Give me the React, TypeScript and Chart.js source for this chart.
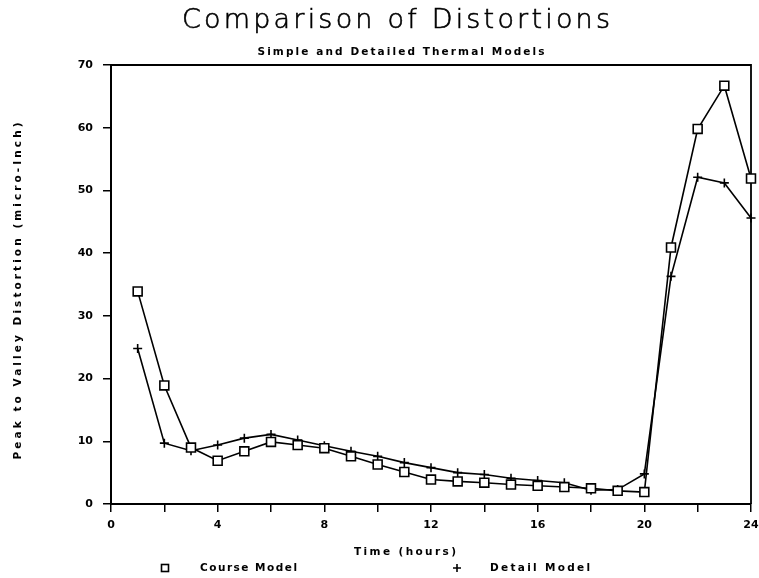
import React, { useEffect, useRef } from 'react';
import { Chart, registerables } from 'chart.js';

Chart.register(...registerables);

// ---- data ----
const hours = [1, 2, 3, 4, 5, 6, 7, 8, 9, 10, 11, 12, 13, 14, 15, 16, 17, 18, 19, 20, 21, 22, 23, 24];
const courseModel = [33.9, 18.9, 9.0, 6.9, 8.4, 9.9, 9.4, 8.9, 7.6, 6.3, 5.1, 3.9, 3.6, 3.4, 3.1, 2.9, 2.7, 2.5, 2.1, 1.9, 40.9, 59.8, 66.7, 51.9];
const detailModel = [24.8, 9.7, 8.5, 9.4, 10.5, 11.1, 10.2, 9.3, 8.4, 7.6, 6.6, 5.8, 5.0, 4.7, 4.1, 3.75, 3.4, 2.2, 2.3, 4.8, 36.3, 52.1, 51.2, 45.6];
const seriesNames = ['Course Model', 'Detail Model'];

const TITLE = 'Comparison of Distortions';
const SUBTITLE = 'Simple and Detailed Thermal Models';
const X_TITLE = 'Time (hours)';
const Y_TITLE = 'Peak to Valley Distortion (micro-Inch)';

const X_MIN = 0;
const X_MAX = 24;
const X_STEP = 2;
const X_LABEL_EVERY = 4;
const Y_MIN = 0;
const Y_MAX = 70;
const Y_STEP = 10;

const W = 759;
const H = 578;
const BOLD = 'bold 10.5px "DejaVu Sans", sans-serif';

function drawFitted(
  ctx: CanvasRenderingContext2D,
  text: string,
  x: number,
  y: number,
  width: number,
  font: string,
  opts: { rotate?: boolean; left?: boolean; stroke?: number } = {}
) {
  ctx.save();
  ctx.font = font;
  (ctx as any).letterSpacing = '0px';
  const w = ctx.measureText(text).width;
  const n = text.length;
  const ls = n > 1 ? (width - w) / (n - 1) : 0;
  (ctx as any).letterSpacing = ls + 'px';
  ctx.textBaseline = 'middle';
  ctx.textAlign = 'left';
  ctx.fillStyle = '#000';
  ctx.strokeStyle = '#000';
  let tx = opts.left ? x : x - width / 2;
  let ty = y;
  if (opts.rotate) {
    ctx.translate(x, y);
    ctx.rotate(-Math.PI / 2);
    tx = -width / 2;
    ty = 0;
  }
  ctx.fillText(text, tx, ty);
  if (opts.stroke) {
    ctx.lineWidth = opts.stroke;
    ctx.strokeText(text, tx, ty);
  }
  ctx.restore();
}

const decorPlugin = {
  id: 'decor',
  beforeDatasetsDraw(chart: any) {
    const { ctx, chartArea } = chart;
    ctx.save();
    ctx.strokeStyle = '#000';
    ctx.lineWidth = 1.8;
    ctx.beginPath();
    ctx.moveTo(chartArea.left, chartArea.top);
    ctx.lineTo(chartArea.right, chartArea.top);
    ctx.lineTo(chartArea.right, chartArea.bottom);
    ctx.stroke();
    ctx.restore();
  },
  afterDraw(chart: any) {
    const ctx: CanvasRenderingContext2D = chart.ctx;
    drawFitted(ctx, TITLE, 396, 21, 428, '200 27px "DejaVu Sans", sans-serif', { stroke: 0.6 });
    drawFitted(ctx, SUBTITLE, 401, 52, 287, BOLD);
    drawFitted(ctx, X_TITLE, 405, 552, 102, BOLD);
    drawFitted(ctx, Y_TITLE, 18, 291, 337, BOLD, { rotate: true });

    // legend
    ctx.save();
    ctx.strokeStyle = '#000';
    ctx.lineWidth = 1.6;
    ctx.strokeRect(161.5, 564.5, 7, 7);
    ctx.beginPath();
    ctx.moveTo(453, 568);
    ctx.lineTo(461, 568);
    ctx.moveTo(457, 564);
    ctx.lineTo(457, 572);
    ctx.stroke();
    ctx.restore();
    drawFitted(ctx, seriesNames[0], 200, 568, 97, BOLD, { left: true });
    drawFitted(ctx, seriesNames[1], 490, 568, 100, BOLD, { left: true });
  },
};

export default function App() {
  const ref = useRef<HTMLCanvasElement | null>(null);

  useEffect(() => {
    if (!ref.current) return;
    const tickFont = { family: '"DejaVu Sans", sans-serif', size: 11, weight: 'bold' as const };
    const chart = new Chart(ref.current, {
      type: 'line',
      data: {
        datasets: [
          {
            label: seriesNames[0],
            data: hours.map((h, i) => ({ x: h, y: courseModel[i] })),
            borderColor: '#000',
            borderWidth: 1.6,
            pointStyle: 'rect',
            pointRadius: 6.3,
            pointBorderWidth: 1.6,
            pointBorderColor: '#000',
            pointBackgroundColor: '#fff',
            tension: 0,
            clip: false,
          },
          {
            label: seriesNames[1],
            data: hours.map((h, i) => ({ x: h, y: detailModel[i] })),
            borderColor: '#000',
            borderWidth: 1.6,
            pointStyle: 'cross',
            pointRadius: 4.5,
            pointBorderWidth: 1.6,
            pointBorderColor: '#000',
            pointBackgroundColor: '#000',
            tension: 0,
            clip: false,
          },
        ],
      },
      options: {
        animation: false,
        responsive: false,
        layout: { padding: { top: 65, right: 8, left: 0, bottom: 0 } },
        plugins: {
          legend: { display: false },
          title: { display: false },
          tooltip: { enabled: false },
        },
        scales: {
          x: {
            type: 'linear',
            min: X_MIN,
            max: X_MAX,
            afterFit: (s: any) => {
              s.height = 74;
              s.paddingLeft = 0;
              s.paddingRight = 0;
            },
            ticks: {
              stepSize: X_STEP,
              autoSkip: false,
              maxRotation: 0,
              padding: 7,
              color: '#000',
              font: tickFont,
              callback: (v: any) => (Number(v) % X_LABEL_EVERY === 0 ? String(v) : ''),
            },
            grid: { drawOnChartArea: false, tickLength: 8, color: '#000', lineWidth: 1.5 },
            border: { display: true, color: '#000', width: 2 },
          },
          y: {
            type: 'linear',
            min: Y_MIN,
            max: Y_MAX,
            afterFit: (s: any) => {
              s.width = 111;
              s.paddingTop = 0;
              s.paddingBottom = 0;
            },
            ticks: {
              stepSize: Y_STEP,
              padding: 10,
              color: '#000',
              font: tickFont,
            },
            grid: { drawOnChartArea: false, tickLength: 8, color: '#000', lineWidth: 1.5 },
            border: { display: true, color: '#000', width: 2 },
          },
        },
      },
      plugins: [decorPlugin],
    });
    return () => chart.destroy();
  }, []);

  return (
    <div style={{ position: 'fixed', left: 0, top: 0, width: W, height: H, background: '#fff' }}>
      <canvas ref={ref} width={W} height={H} style={{ width: W, height: H, display: 'block' }} />
    </div>
  );
}
